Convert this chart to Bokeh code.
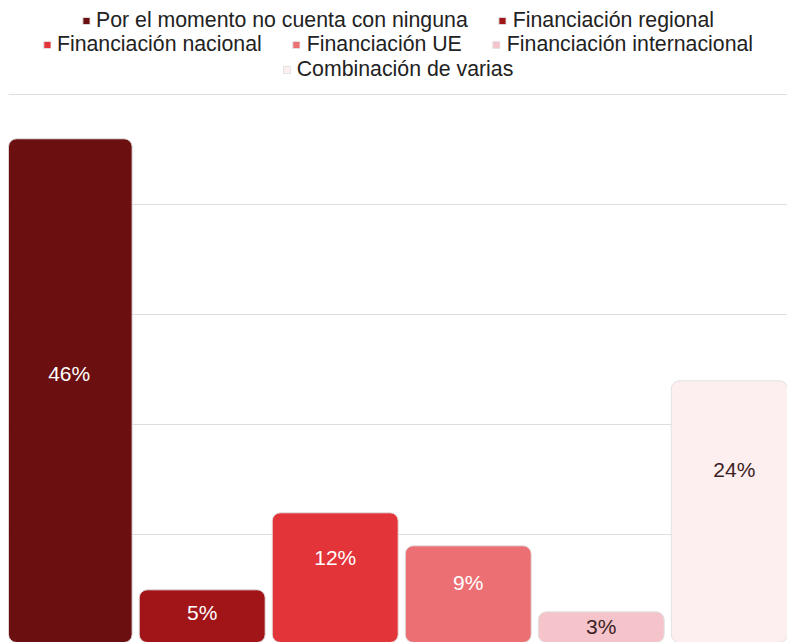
from bokeh.plotting import figure
from bokeh.models import Range1d, Legend, LegendItem, ColumnDataSource, FixedTicker
from bokeh.core.properties import value
from bokeh.embed import file_html
from bokeh.resources import INLINE

categories = [
    "Por el momento no cuenta con ninguna",
    "Financiación regional",
    "Financiación nacional",
    "Financiación UE",
    "Financiación internacional",
    "Combinación de varias",
]
values = [46, 5, 12, 9, 3, 24]
labels = ["46%", "5%", "12%", "9%", "3%", "24%"]
grid_ticks = [10, 20, 30, 40, 50]

# styles
colors = ["#6b0f11", "#a11519", "#e3343a", "#ec6f73", "#f5c4cb", "#fdeeef"]
label_colors = ["#ffffff", "#ffffff", "#ffffff", "#ffffff", "#3b1f24", "#3b1f24"]
label_frac = [0.537, 0.596, 0.658, 0.629, 0.555, 0.664]
legend_rows = [[0, 1], [2, 3, 4], [5]]
legend_offsets = [8, 32, 57]

xs = list(range(len(categories)))
src = ColumnDataSource(dict(
    x=xs,
    top=values,
    color=colors,
    text=labels,
    tcolor=label_colors,
    ly=[v * f for v, f in zip(values, label_frac)],
))

p = figure(width=787, height=642, output_backend="svg", toolbar_location=None,
           x_range=Range1d(-0.456, 5.40), y_range=Range1d(0.21, 58.57),
           min_border=0, min_border_left=8)
p.xaxis.visible = False
p.yaxis.visible = False
p.xgrid.visible = False
p.ygrid.ticker = FixedTicker(ticks=grid_ticks)
p.ygrid.grid_line_color = "#dedede"
p.ygrid.grid_line_width = 1
p.outline_line_color = None
p.background_fill_color = "white"
p.border_fill_color = "white"

r = p.vbar(x="x", top="top", bottom=0, width=0.947, source=src,
           fill_color="color", line_color="#e2e2e2", line_width=1,
           border_radius=8)

p.text(x="x", y="ly", text="text", source=src, text_color="tcolor",
       text_align="center", text_baseline="middle",
       text_font=value("Liberation Sans"), text_font_size="21px")

for row, off in zip(legend_rows, legend_offsets):
    lg = Legend(items=[LegendItem(label=categories[i], renderers=[r], index=i) for i in row],
                orientation="horizontal", location="top_center",
                glyph_width=9, glyph_height=9, label_standoff=6, spacing=30,
                padding=0, margin=off, label_height=24,
                label_text_font="Liberation Sans", label_text_font_size="21.3px",
                label_text_color="#222222",
                border_line_alpha=0, background_fill_alpha=0)
    p.add_layout(lg)

open("out.html", "w").write(file_html(p, INLINE))
